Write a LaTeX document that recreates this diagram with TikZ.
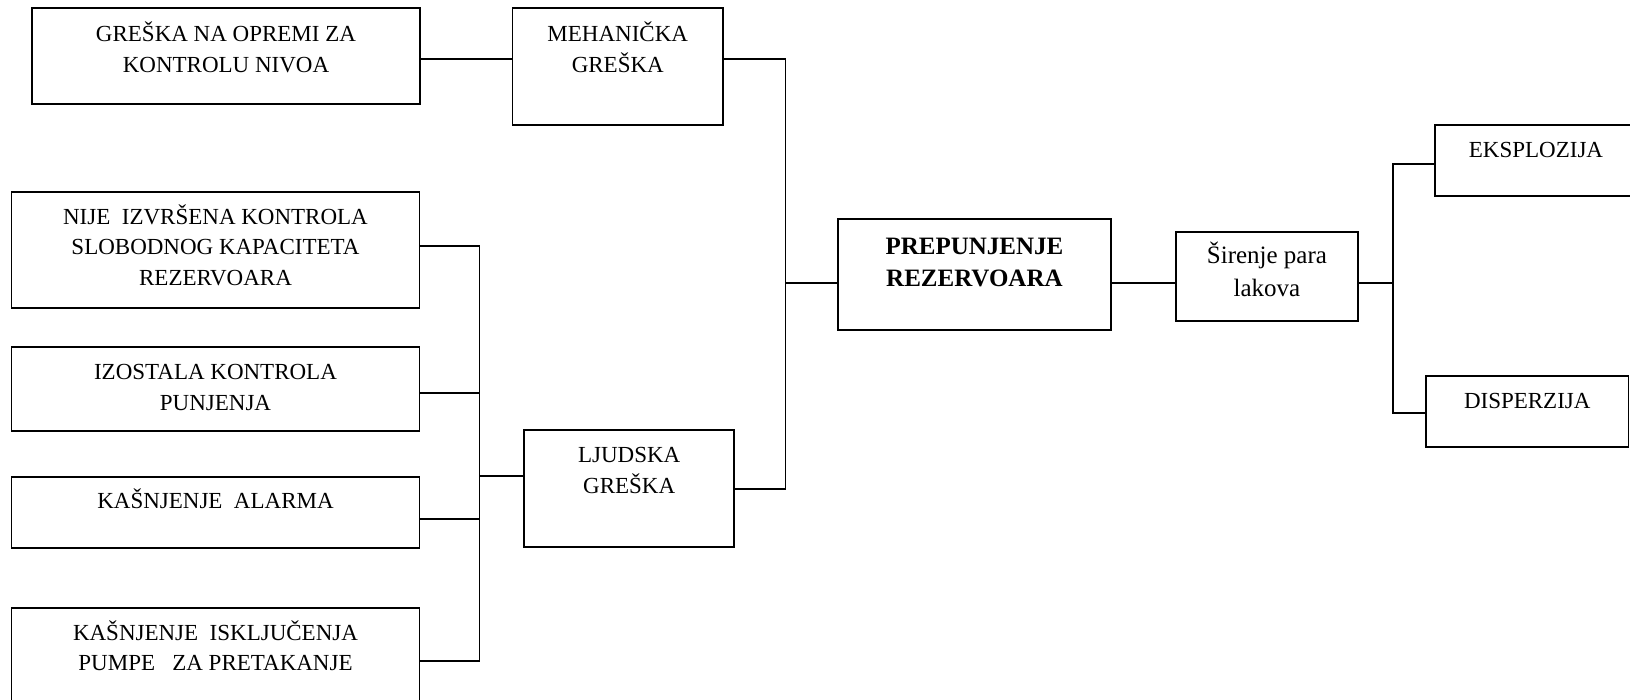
\documentclass[tikz,border=0pt]{standalone}
\usepackage{fontspec}
\setmainfont{Liberation Serif}
\usetikzlibrary{calc}

% box contents: width, height, first baseline, lines
\newcommand\boxlines[4]{\begin{minipage}[t][#2][t]{#1}\centering\rule{0pt}{#3}#4\end{minipage}}

\tikzset{
  box/.style={draw=black, line width=1.7pt, inner sep=0pt, outer sep=0pt, anchor=north west,
              font=\fontsize{23}{30.7}\selectfont},
  boldbox/.style={box, font=\fontsize{25}{32}\selectfont\bfseries},
  smallbox/.style={box, font=\fontsize{25}{32.7}\selectfont},
  link/.style={draw=black, line width=1.7pt, line join=miter}
}

\begin{document}
\begin{tikzpicture}[x=1pt,y=-1pt]
\useasboundingbox (0,0) rectangle (1630,699);
\clip (0,0) rectangle (1630,699);

% causes
\node[box] (g1) at (32,8.3) {\boxlines{388pt}{96pt}{33.4pt}{GREŠKA NA OPREMI ZA\\KONTROLU NIVOA}};
\node[box] (mech) at (512.5,8.3) {\boxlines{210.5pt}{117pt}{33.4pt}{MEHANIČKA\\GREŠKA}};
\node[box] (nije) at (11.5,191.7) {\boxlines{408pt}{116.6pt}{32.3pt}{NIJE\ \ IZVRŠENA KONTROLA\\SLOBODNOG KAPACITETA\\REZERVOARA}};
\node[box] (izost) at (11.5,347.3) {\boxlines{408pt}{83.4pt}{32pt}{IZOSTALA KONTROLA\\PUNJENJA}};
\node[box] (alarm) at (11.5,476.7) {\boxlines{408pt}{71.6pt}{31.6pt}{KAŠNJENJE\ \ ALARMA}};
\node[box] (isklj) at (11.5,608.3) {\boxlines{408pt}{130pt}{31.7pt}{KAŠNJENJE\ \ ISKLJUČENJA\\PUMPE\ \ \ ZA PRETAKANJE}};
\node[box] (ljud) at (524,430) {\boxlines{210.3pt}{117.3pt}{32.3pt}{LJUDSKA\\GREŠKA}};

% top event and consequences
\node[boldbox] (prep) at (838.1,219.3) {\boxlines{272.6pt}{110.7pt}{34.7pt}{PREPUNJENJE\\REZERVOARA}};
\node[smallbox] (sir) at (1175.9,232.3) {\boxlines{182.1pt}{88.4pt}{31pt}{Širenje para\\lakova}};
\node[box] (eksp) at (1435,125) {\boxlines{202pt}{70.7pt}{32.3pt}{EKSPLOZIJA}};
\node[box] (disp) at (1426,376) {\boxlines{202.5pt}{70.7pt}{32.3pt}{DISPERZIJA}};

% junction points
\coordinate (m1) at (785.5,59.3);
\coordinate (m2) at (785.5,489.3);
\coordinate (m3) at (785.5,282.7);
\coordinate (l1) at (479.6,246);
\coordinate (l2) at (479.6,393.3);
\coordinate (l3) at (479.6,519);
\coordinate (l4) at (479.6,660.7);
\coordinate (lm) at (479.6,476);
\coordinate (r1) at (1393,163.7);
\coordinate (r2) at (1393,412.7);
\coordinate (r0) at (1393,282.7);

% connectors
\draw[link] (g1.east |- m1) -- (mech.west |- m1);
\draw[link] (mech.east |- m1) -- (m1) -- (m2) -- (ljud.east |- m2);
\draw[link] (m3) -- (prep.west |- m3);
\draw[link] (prep.east |- m3) -- (sir.west |- m3);
\draw[link] (sir.east |- m3) -- (r0);
\draw[link] (eksp.west |- r1) -- (r1) -- (r2) -- (disp.west |- r2);
\draw[link] (nije.east |- l1) -- (l1) -- (l4) -- (isklj.east |- l4);
\draw[link] (izost.east |- l2) -- (l2);
\draw[link] (alarm.east |- l3) -- (l3);
\draw[link] (lm) -- (ljud.west |- lm);
\end{tikzpicture}
\end{document}
